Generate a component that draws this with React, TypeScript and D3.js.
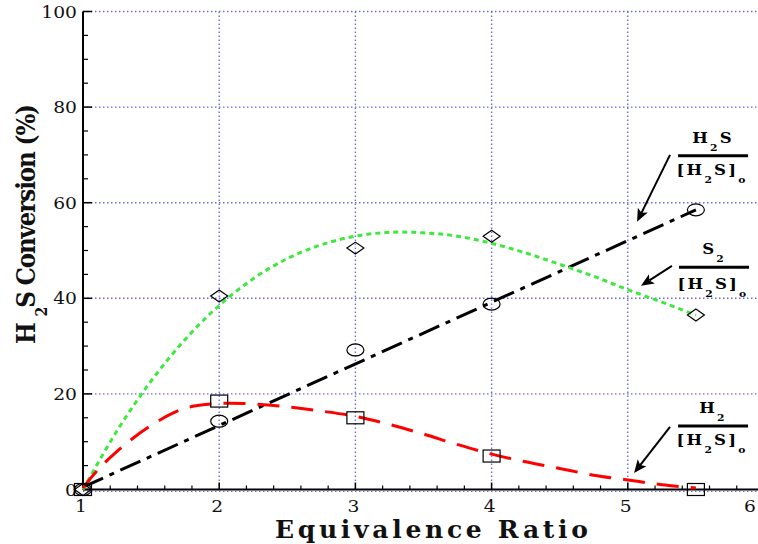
import React from 'react';
import * as d3 from 'd3';

const W = 758;
const H = 544;

// measured points
const phi = [1, 2, 3, 4, 5.5];
const h2sConversion = [0, 14.3, 29.2, 38.8, 58.5];
const s2Yield = [0, 40.5, 50.5, 53, 36.5];
const h2Yield = [0, 18.5, 15, 7, 0];

// fitted curves
const h2sFitPhi = [1, 5.5];
const h2sFit = [0.5, 58.5];
const s2FitPhi = [1, 1.25, 1.5, 1.75, 2, 2.25, 2.5, 2.75, 3, 3.25, 3.5, 3.75, 4, 4.25, 4.5, 4.75, 5, 5.25, 5.5];
const s2Fit = [0, 12.3, 22.7, 31.4, 38.5, 44.1, 48.3, 51.2, 53.0, 53.8, 53.7, 53.0, 51.5, 49.5, 47.1, 44.6, 41.8, 39.2, 36.5];
const h2FitPhi = [1, 1.1, 1.25, 1.5, 1.75, 2, 2.25, 2.5, 2.75, 3, 3.25, 3.5, 3.75, 4, 4.25, 4.5, 4.75, 5, 5.25, 5.5];
const h2Fit = [0.3, 3.8, 8.0, 13.4, 17.0, 18.0, 17.9, 17.3, 16.4, 15.3, 13.6, 11.6, 9.4, 7.4, 5.8, 4.4, 3.0, 2.0, 1.0, 0.3];

const xTicks = [1, 2, 3, 4, 5, 6];
const yTicks = [0, 20, 40, 60, 80, 100];

const SERIF = '"DejaVu Serif", "Liberation Serif", serif';

type Seg = { t: string; sub?: boolean };
const fracNumH2S: Seg[] = [{ t: 'H' }, { t: '2', sub: true }, { t: 'S' }];
const fracNumS2: Seg[] = [{ t: 'S' }, { t: '2', sub: true }];
const fracNumH2: Seg[] = [{ t: 'H' }, { t: '2', sub: true }];
const fracDen: Seg[] = [{ t: '[' }, { t: 'H' }, { t: '2', sub: true }, { t: 'S' }, { t: ']' }, { t: 'o', sub: true }];

const annotations = [
  { num: fracNumH2S, cx: 5.626, lineY: 69.8, denGap: 19, from: [5.31, 70.0], to: [5.068, 56.0] },
  { num: fracNumS2, cx: 5.633, lineY: 46.5, denGap: 22, from: [5.324, 46.8], to: [5.097, 42.6] },
  { num: fracNumH2, cx: 5.626, lineY: 13.3, denGap: 19, from: [5.31, 13.1], to: [5.046, 3.45] },
];

function SegText({ segs, x, y, size, ls }: { segs: Seg[]; x: number; y: number; size: number; ls: number }) {
  let cur = 0;
  return (
    <text
      transform={`translate(${x},${y}) scale(1.1,1)`}
      textAnchor="middle"
      style={{ fontFamily: SERIF, fontWeight: 'bold', fontSize: size, letterSpacing: ls }}
      fill="#000"
    >
      {segs.map((s, i) => {
        const target = s.sub ? 8 : 0;
        const dy = target - cur;
        cur = target;
        return (
          <tspan key={i} dy={dy} style={{ fontSize: s.sub ? size * 0.65 : size }}>
            {s.t}
          </tspan>
        );
      })}
    </text>
  );
}

export default function App() {
  const x = d3.scaleLinear().domain([1, 6]).range([83, 764]);
  const y = d3.scaleLinear().domain([0, 100]).range([489.5, 11.5]);

  const line = d3
    .line<[number, number]>()
    .x((d) => x(d[0]))
    .y((d) => y(d[1]));
  const smooth = d3
    .line<[number, number]>()
    .x((d) => x(d[0]))
    .y((d) => y(d[1]))
    .curve(d3.curveCatmullRom.alpha(0.5));

  const zip = (a: number[], b: number[]) => a.map((v, i) => [v, b[i]] as [number, number]);

  const minorX = d3.range(1, 6.001, 0.2).filter((v) => Math.abs(v - Math.round(v)) > 0.01);
  const minorY = d3.range(0, 100.01, 5).filter((v) => v % 20 !== 0);

  const gridColor = '#6a6ae0';

  return (
    <svg width={W} height={H} style={{ position: 'absolute', left: 0, top: 0, background: '#fff' }}>
      <rect x={0} y={0} width={W} height={H} fill="#fff" />
      {/* grid */}
      {xTicks.filter((v) => v > 1).map((v) => (
        <line key={'gx' + v} x1={x(v)} x2={x(v)} y1={y(100)} y2={y(0)} stroke={gridColor} strokeWidth={1.4} strokeDasharray="1.5,2.5" />
      ))}
      {yTicks.filter((v) => v > 0).map((v) => (
        <line key={'gy' + v} x1={x(1)} x2={W} y1={y(v)} y2={y(v)} stroke={gridColor} strokeWidth={1.4} strokeDasharray="1.5,2.5" />
      ))}
      <line x1={x(1)} x2={W} y1={y(0) + 2} y2={y(0) + 2} stroke={gridColor} strokeWidth={1} strokeDasharray="1.5,2.5" />

      {/* axes */}
      <line x1={x(1)} x2={x(1)} y1={y(100)} y2={y(0)} stroke="#000" strokeWidth={2} />
      <line x1={x(1)} x2={W} y1={y(0)} y2={y(0)} stroke="#000" strokeWidth={2} />
      {minorY.map((v) => (
        <line key={'my' + v} x1={x(1)} x2={x(1) + 5} y1={y(v)} y2={y(v)} stroke="#000" strokeWidth={1.2} />
      ))}
      {yTicks.map((v) => (
        <line key={'My' + v} x1={x(1)} x2={x(1) + 9} y1={y(v)} y2={y(v)} stroke="#000" strokeWidth={1.5} />
      ))}
      {minorX.map((v) => (
        <line key={'mx' + v} x1={x(v)} x2={x(v)} y1={y(0)} y2={y(0) - 4} stroke="#000" strokeWidth={1.2} />
      ))}
      {xTicks.map((v) => (
        <line key={'Mx' + v} x1={x(v)} x2={x(v)} y1={y(0)} y2={y(0) - 7} stroke="#000" strokeWidth={1.5} />
      ))}

      {/* tick labels */}
      {yTicks.map((v) => (
        <text key={'ly' + v} transform={`translate(77,${y(v) + 6}) scale(1.1,1)`} textAnchor="end" style={{ fontFamily: SERIF, fontSize: 17 }} fill="#111">
          {v}
        </text>
      ))}
      {xTicks.map((v) => (
        <text key={'lx' + v} transform={`translate(${Math.min(x(v) - 2, 750)},${y(0) + 22}) scale(1.1,1)`} textAnchor="middle" style={{ fontFamily: SERIF, fontSize: 17 }} fill="#111">
          {v}
        </text>
      ))}

      {/* axis titles */}
      <text x={275} y={538} textLength={313} lengthAdjust="spacing" style={{ fontFamily: SERIF, fontWeight: 'bold', fontSize: 25 }} fill="#111">
        Equivalence Ratio
      </text>
      <text
        transform={`translate(35,224) scale(1.15,1) rotate(-90)`}
        textAnchor="middle"
        textLength={240}
        lengthAdjust="spacing"
        style={{ fontFamily: SERIF, fontWeight: 'bold', fontSize: 23 }}
        fill="#111"
      >
        <tspan>H </tspan>
        <tspan dy={10} style={{ fontSize: 14 }}>2</tspan>
        <tspan dy={-10}>S Conversion (%)</tspan>
      </text>

      {/* fitted curves */}
      <path d={line(zip(h2sFitPhi, h2sFit)) || ''} fill="none" stroke="#000" strokeWidth={3} strokeDasharray="22,7,5,7" />
      <path d={smooth(zip(s2FitPhi, s2Fit)) || ''} fill="none" stroke="#3fe83f" strokeWidth={3} strokeDasharray="5,4" />
      <path d={smooth(zip(h2FitPhi, h2Fit)) || ''} fill="none" stroke="#ff0000" strokeWidth={3} strokeDasharray="22,12" />

      {/* markers */}
      {phi.map((p, i) => (
        <ellipse key={'c' + i} cx={x(p)} cy={y(h2sConversion[i])} rx={8.5} ry={6} fill="none" stroke="#000" strokeWidth={1.2} />
      ))}
      {phi.map((p, i) => {
        const cx = x(p), cy = y(s2Yield[i]);
        return (
          <path key={'d' + i} d={`M${cx - 8.5},${cy}L${cx},${cy - 6}L${cx + 8.5},${cy}L${cx},${cy + 6}Z`} fill="none" stroke="#000" strokeWidth={1.2} />
        );
      })}
      {phi.map((p, i) => (
        <rect key={'s' + i} x={x(p) - 8.5} y={y(h2Yield[i]) - 6} width={17} height={12} fill="none" stroke="#000" strokeWidth={1.2} />
      ))}

      {/* annotations */}
      {annotations.map((a, i) => {
        const cx = x(a.cx);
        const ly = y(a.lineY);
        const fx = x(a.from[0]), fy = y(a.from[1]);
        const tx = x(a.to[0]), ty = y(a.to[1]);
        const ang = Math.atan2(ty - fy, tx - fx);
        const L = 13, Wd = 5.5;
        const bx = tx - L * Math.cos(ang), by = ty - L * Math.sin(ang);
        const px = -Math.sin(ang), py = Math.cos(ang);
        const nx = tx - (L - 3) * Math.cos(ang), ny = ty - (L - 3) * Math.sin(ang);
        return (
          <g key={'a' + i}>
            <line x1={fx} y1={fy} x2={nx} y2={ny} stroke="#000" strokeWidth={2} />
            <path d={`M${tx},${ty}L${bx + px * Wd},${by + py * Wd}L${nx},${ny}L${bx - px * Wd},${by - py * Wd}Z`} fill="#000" />
            <line x1={cx - 35} x2={cx + 35} y1={ly} y2={ly} stroke="#000" strokeWidth={3} />
            <SegText segs={a.num} x={cx} y={ly - 13} size={15} ls={2} />
            <SegText segs={fracDen} x={cx - 1} y={ly + a.denGap} size={15} ls={2} />
          </g>
        );
      })}
    </svg>
  );
}
